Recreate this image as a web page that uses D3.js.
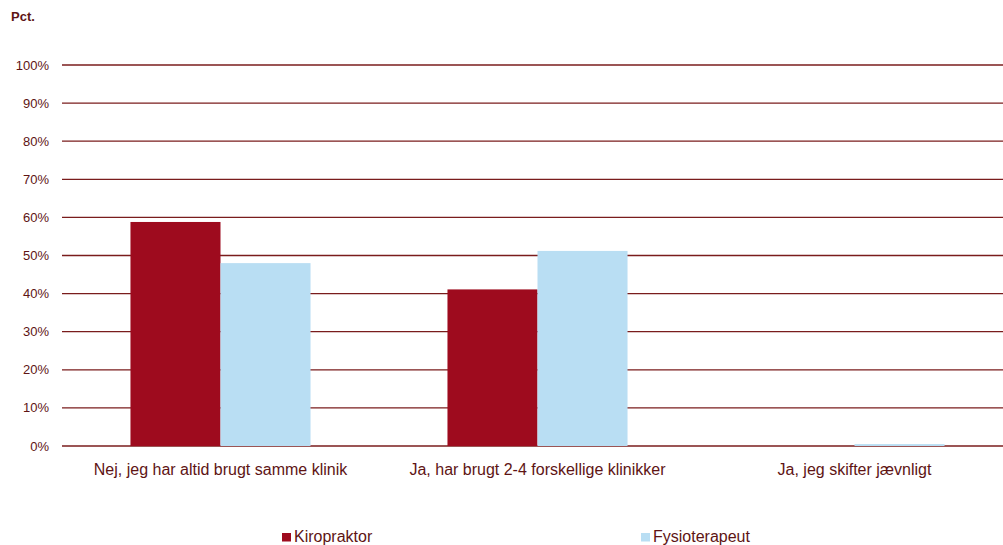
<!DOCTYPE html>
<html>
<head>
<meta charset="utf-8">
<script src="https://cdn.jsdelivr.net/npm/d3@7"></script>
<style>
  body { margin: 0; background: #fff; }
  svg { display: block; font-family: "Liberation Sans", Arial, sans-serif; }
</style>
</head>
<body>
<div id="chart"></div>
<script>
const categories = [
  'Nej, jeg har altid brugt samme klinik',
  'Ja, har brugt 2-4 forskellige klinikker',
  'Ja, jeg skifter jævnligt'
];
const seriesNames = ['Kiropraktor', 'Fysioterapeut'];
const kiropraktor = [58.8, 41.1, 0];
const fysioterapeut = [48.0, 51.2, 0.5];
const yTicks = [0, 10, 20, 30, 40, 50, 60, 70, 80, 90, 100];

const colors = ['#9e0b1e', '#b9def3'];
const textColor = '#5e1414';
const gridColor = '#7a1c1c';

const width = 1003, height = 545;
const plotLeft = 62, plotRight = 1013, plotTop = 65, plotBottom = 446;

const svg = d3.select('#chart').append('svg')
  .attr('width', width)
  .attr('height', height);

const x = d3.scaleBand().domain(categories).range([plotLeft, plotRight])
  .paddingInner(0.432).paddingOuter(0.216);
const xs = d3.scaleBand().domain(seriesNames).range([0, x.bandwidth()]);
const y = d3.scaleLinear().domain([0, 100]).range([plotBottom, plotTop]);

// gridlines
svg.append('g').selectAll('line').data(yTicks).join('line')
  .attr('x1', plotLeft).attr('x2', width)
  .attr('y1', d => y(d)).attr('y2', d => y(d))
  .attr('stroke', gridColor)
  .attr('stroke-width', 1.3);

// y labels
svg.append('g').selectAll('text').data(yTicks).join('text')
  .attr('x', 49).attr('y', d => y(d) + 4.5)
  .attr('text-anchor', 'end')
  .attr('font-size', 13)
  .attr('fill', textColor)
  .text(d => d + '%');

svg.append('text')
  .attr('x', 11).attr('y', 21)
  .attr('font-size', 13).attr('font-weight', 'bold')
  .attr('fill', textColor)
  .text('Pct.');

// bars
const series = [kiropraktor, fysioterapeut];
series.forEach((vals, si) => {
  svg.append('g').selectAll('rect').data(categories).join('rect')
    .attr('x', (c) => x(c) + xs(seriesNames[si]))
    .attr('y', (c, i) => y(vals[i]))
    .attr('width', xs.bandwidth())
    .attr('height', (c, i) => y(0) - y(vals[i]))
    .attr('fill', colors[si]);
});

// x labels
svg.append('g').selectAll('text').data(categories).join('text')
  .attr('x', c => x(c) + x.bandwidth() / 2)
  .attr('y', 475)
  .attr('text-anchor', 'middle')
  .attr('font-size', 16)
  .attr('fill', textColor)
  .text(c => c);

// legend
const legendX = [282, 641];
seriesNames.forEach((s, i) => {
  const g = svg.append('g').attr('transform', `translate(${legendX[i]},537)`);
  g.append('rect').attr('x', 0).attr('y', -4).attr('width', 9).attr('height', 8.5)
    .attr('fill', colors[i]);
  g.append('text').attr('x', 12).attr('y', 4.5)
    .attr('font-size', 16).attr('fill', textColor).text(s);
});
</script>
</body>
</html>
